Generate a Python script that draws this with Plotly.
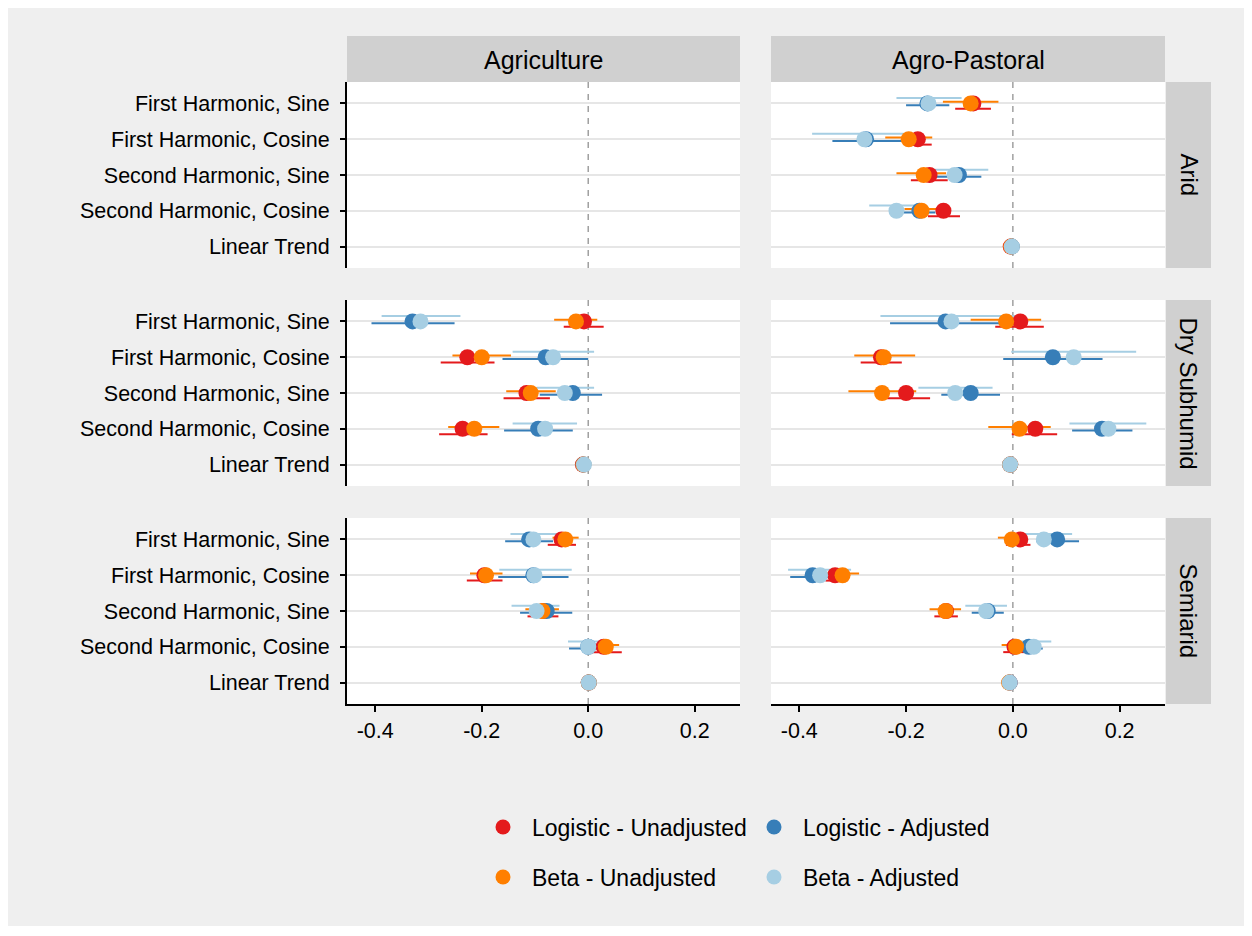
import plotly.graph_objects as go

# ---------------- data ----------------
categories = ["First Harmonic, Sine", "First Harmonic, Cosine", "Second Harmonic, Sine",
              "Second Harmonic, Cosine", "Linear Trend"]
zones = ["Arid", "Dry Subhumid", "Semiarid"]
systems = ["Agriculture", "Agro-Pastoral"]
series_names = ["Logistic - Unadjusted", "Logistic - Adjusted", "Beta - Unadjusted", "Beta - Adjusted"]
series_colors = ["#e41a1c", "#377eb8", "#ff7f00", "#a6cee3"]
x_tickvals = [-0.4, -0.2, 0.0, 0.2]
x_ticktext = ["-0.4", "-0.2", "0.0", "0.2"]

# each panel: rows = series (LU, LA, BU, BA), columns = categories
# Arid / Agriculture has no estimates
arid_agri_est = None
arid_agri_lo = None
arid_agri_hi = None

arid_agp_est = [[-0.074, -0.178, -0.156, -0.130, -0.004],
                [-0.160, -0.275, -0.101, -0.175, -0.002],
                [-0.079, -0.195, -0.167, -0.171, -0.003],
                [-0.158, -0.278, -0.109, -0.218, -0.002]]
arid_agp_lo = [[-0.108, -0.200, -0.191, -0.159, -0.006],
               [-0.200, -0.338, -0.144, -0.205, -0.004],
               [-0.131, -0.239, -0.218, -0.203, -0.005],
               [-0.218, -0.376, -0.150, -0.269, -0.004]]
arid_agp_hi = [[-0.041, -0.152, -0.122, -0.099, -0.002],
               [-0.119, -0.206, -0.059, -0.145, 0.000],
               [-0.027, -0.151, -0.125, -0.138, -0.001],
               [-0.096, -0.203, -0.046, -0.167, 0.000]]

dry_agri_est = [[-0.008, -0.227, -0.116, -0.236, -0.010],
                [-0.330, -0.080, -0.029, -0.094, -0.009],
                [-0.023, -0.200, -0.108, -0.214, -0.009],
                [-0.315, -0.066, -0.044, -0.081, -0.008]]
dry_agri_lo = [[-0.046, -0.277, -0.159, -0.280, -0.012],
               [-0.407, -0.161, -0.091, -0.158, -0.011],
               [-0.064, -0.255, -0.154, -0.263, -0.011],
               [-0.388, -0.142, -0.097, -0.142, -0.010]]
dry_agri_hi = [[0.029, -0.176, -0.072, -0.189, -0.008],
               [-0.251, 0.000, 0.026, -0.029, -0.007],
               [0.017, -0.145, -0.061, -0.167, -0.007],
               [-0.240, 0.011, 0.011, -0.021, -0.006]]

dry_agp_est = [[0.014, -0.247, -0.200, 0.042, -0.005],
               [-0.126, 0.075, -0.079, 0.167, -0.005],
               [-0.0125, -0.242, -0.245, 0.0125, -0.005],
               [-0.115, 0.114, -0.108, 0.179, -0.005]]
dry_agp_lo = [[-0.033, -0.285, -0.244, -0.002, -0.007],
              [-0.230, -0.018, -0.134, 0.111, -0.007],
              [-0.079, -0.297, -0.308, -0.046, -0.007],
              [-0.248, -0.003, -0.177, 0.106, -0.007]]
dry_agp_hi = [[0.058, -0.208, -0.155, 0.083, -0.003],
              [-0.022, 0.168, -0.024, 0.224, -0.003],
              [0.053, -0.183, -0.181, 0.071, -0.003],
              [0.018, 0.231, -0.038, 0.250, -0.003]]

semi_agri_est = [[-0.050, -0.195, -0.084, 0.029, 0.001],
                 [-0.111, -0.103, -0.078, 0.000, 0.001],
                 [-0.043, -0.192, -0.086, 0.033, 0.001],
                 [-0.103, -0.101, -0.097, 0.000, 0.001]]
semi_agri_lo = [[-0.076, -0.228, -0.114, -0.005, -0.001],
                [-0.156, -0.169, -0.128, -0.036, -0.001],
                [-0.067, -0.222, -0.118, 0.009, -0.001],
                [-0.146, -0.167, -0.144, -0.038, -0.001]]
semi_agri_hi = [[-0.023, -0.161, -0.056, 0.063, 0.003],
                [-0.066, -0.037, -0.030, 0.036, 0.003],
                [-0.018, -0.161, -0.055, 0.058, 0.003],
                [-0.056, -0.031, -0.054, 0.038, 0.003]]

semi_agp_est = [[0.014, -0.333, -0.125, 0.003, -0.006],
                [0.083, -0.375, -0.047, 0.030, -0.006],
                [-0.002, -0.319, -0.126, 0.006, -0.007],
                [0.058, -0.361, -0.050, 0.039, -0.006]]
semi_agp_lo = [[-0.013, -0.351, -0.147, -0.018, -0.008],
               [0.044, -0.417, -0.077, 0.003, -0.008],
               [-0.028, -0.350, -0.156, -0.021, -0.009],
               [0.022, -0.421, -0.089, 0.004, -0.008]]
semi_agp_hi = [[0.033, -0.310, -0.103, 0.025, -0.004],
               [0.124, -0.331, -0.017, 0.056, -0.004],
               [0.019, -0.288, -0.097, 0.034, -0.005],
               [0.111, -0.303, -0.011, 0.072, -0.004]]

panels = {
    (0, 0): (arid_agri_est, arid_agri_lo, arid_agri_hi),
    (0, 1): (arid_agp_est, arid_agp_lo, arid_agp_hi),
    (1, 0): (dry_agri_est, dry_agri_lo, dry_agri_hi),
    (1, 1): (dry_agp_est, dry_agp_lo, dry_agp_hi),
    (2, 0): (semi_agri_est, semi_agri_lo, semi_agri_hi),
    (2, 1): (semi_agp_est, semi_agp_lo, semi_agp_hi),
}

# ---------------- layout geometry (pixels) ----------------
W, H = 1236, 918
OX, OY = 8, 8  # body margin offset


def px(x):
    return (x - OX) / W


def py(y):
    return 1 - (y - OY) / H


col_x = [(347, 740), (771, 1165)]
row_y = [(82, 268), (300, 486), (518, 704)]
ci_offsets = [0.15, 0.05, -0.05, -0.15]  # LU, LA, BU, BA
FONT = "Liberation Sans, Arial, sans-serif"

fig = go.Figure()
layout = dict(
    width=W, height=H,
    margin=dict(l=0, r=0, t=0, b=0),
    paper_bgcolor="#efefef", plot_bgcolor="white",
    font=dict(family=FONT, color="black", size=21),
    shapes=[], annotations=[],
)

for (r, c), (est, lo, hi) in panels.items():
    k = r * 2 + c + 1
    xs = "" if k == 1 else str(k)
    xa, ya = "x" + xs, "y" + xs
    bottom = r == 2
    left = c == 0
    layout["xaxis" + xs] = dict(
        domain=[px(col_x[c][0]), px(col_x[c][1])], anchor=ya,
        range=[-0.453, 0.285], showgrid=False, zeroline=False,
        tickvals=x_tickvals, ticktext=x_ticktext,
        showticklabels=bottom, ticks="outside" if bottom else "",
        ticklen=6, tickwidth=1.5, tickcolor="black",
        showline=bottom, linecolor="black", linewidth=2,
        tickfont=dict(size=21.5),
    )
    layout["yaxis" + xs] = dict(
        domain=[py(row_y[r][1]), py(row_y[r][0])], anchor=xa,
        range=[4.6, -0.6], showgrid=True, gridcolor="#e6e6e6", gridwidth=1.5,
        zeroline=False, tickvals=list(range(len(categories))), ticktext=categories,
        showticklabels=left, ticks="outside" if left else "",
        ticklen=5, tickwidth=1.5, tickcolor="black", ticklabelstandoff=6,
        showline=left, linecolor="black", linewidth=2,
        tickfont=dict(size=21.5),
    )
    layout["shapes"].append(dict(
        type="line", xref=xa, yref=ya + " domain", x0=0, x1=0, y0=0, y1=1,
        line=dict(color="#a0a0a0", width=1.5, dash="6px,6px"), layer="below"))

    if est is None:
        # empty panel: keep the subplot alive with an empty trace
        fig.add_trace(go.Scatter(x=[None], y=[None], mode="markers", xaxis=xa, yaxis=ya,
                                 showlegend=False, hoverinfo="skip"))
        continue
    # CI lines first, then points (series order: LU, LA, BU, BA)
    for s in range(len(series_names)):
        xl, yl = [], []
        for i in range(len(categories)):
            xl += [lo[s][i], hi[s][i], None]
            yl += [i + ci_offsets[s], i + ci_offsets[s], None]
        fig.add_trace(go.Scatter(
            x=xl, y=yl, mode="lines", xaxis=xa, yaxis=ya,
            line=dict(color=series_colors[s], width=2),
            showlegend=False, hoverinfo="skip"))
    for s in range(len(series_names)):
        fig.add_trace(go.Scatter(
            x=est[s], y=list(range(len(categories))), mode="markers",
            xaxis=xa, yaxis=ya, name=series_names[s],
            marker=dict(color=series_colors[s], size=16, line=dict(width=0)),
            showlegend=False))

# legend entries (two rows of two)
for s in range(len(series_names)):
    fig.add_trace(go.Scatter(
        x=[None], y=[None], mode="markers", name=series_names[s],
        marker=dict(color=series_colors[s], size=15),
        legend="legend" if s < 2 else "legend2", showlegend=True))

legend_common = dict(
    orientation="h", bgcolor="rgba(0,0,0,0)", itemwidth=48,
    entrywidth=208, entrywidthmode="pixels", xanchor="left", yanchor="middle",
    font=dict(size=23, family=FONT), itemclick=False, itemdoubleclick=False,
    tracegroupgap=0,
)
layout["legend"] = dict(legend_common, x=px(474), y=py(827))
layout["legend2"] = dict(legend_common, x=px(474), y=py(877))

# strip headers
for c, name in enumerate(systems):
    layout["shapes"].append(dict(
        type="rect", xref="paper", yref="paper",
        x0=px(col_x[c][0]), x1=px(col_x[c][1]), y0=py(82), y1=py(36),
        fillcolor="#d0d0d0", line=dict(width=0), layer="below"))
    layout["annotations"].append(dict(
        text=name, xref="paper", yref="paper", showarrow=False,
        x=px((col_x[c][0] + col_x[c][1]) / 2), y=py(60),
        xanchor="center", yanchor="middle", font=dict(size=25)))
for r, name in enumerate(zones):
    layout["shapes"].append(dict(
        type="rect", xref="paper", yref="paper",
        x0=px(1166), x1=px(1211), y0=py(row_y[r][1]), y1=py(row_y[r][0]),
        fillcolor="#d0d0d0", line=dict(width=0), layer="below"))
    layout["annotations"].append(dict(
        text=name, xref="paper", yref="paper", showarrow=False, textangle=90,
        x=px(1188.5), y=py((row_y[r][0] + row_y[r][1]) / 2),
        xanchor="center", yanchor="middle", font=dict(size=24)))

fig.update_layout(**layout)
fig.write_html("out.html")
